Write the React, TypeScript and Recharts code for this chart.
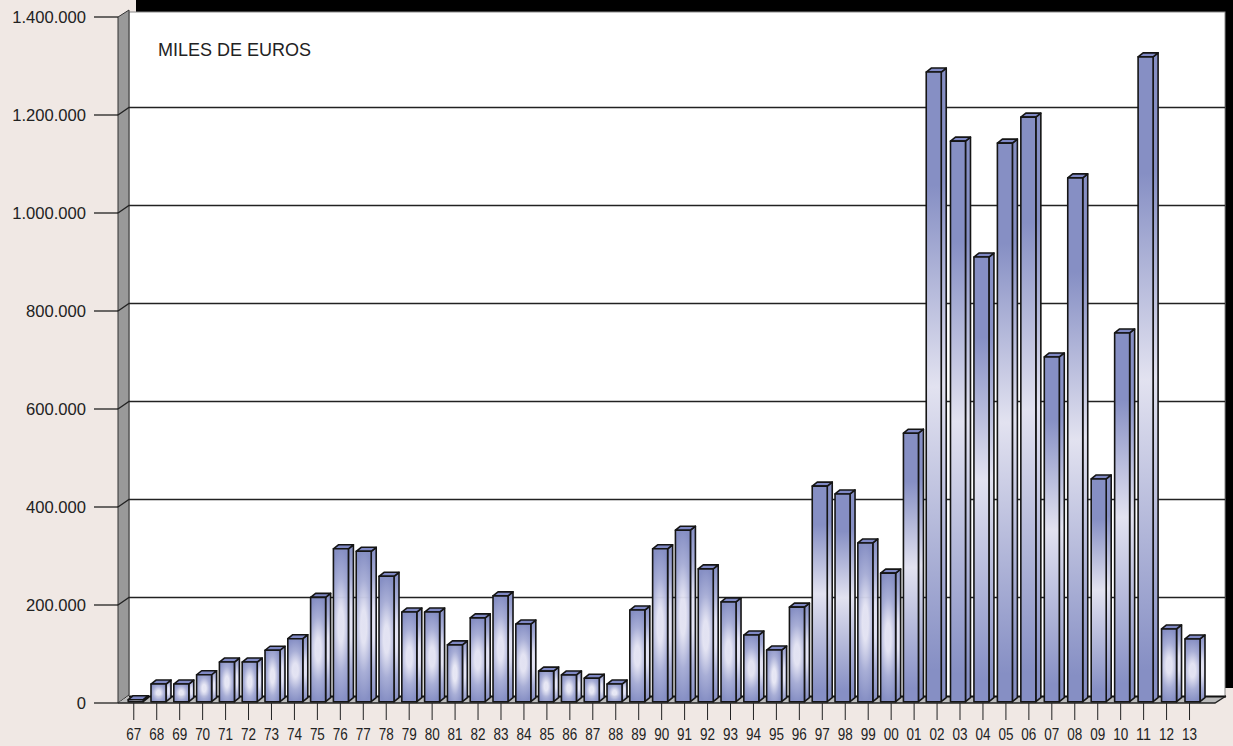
import { BarChart, Bar, CartesianGrid, XAxis, YAxis } from 'recharts'

const years = [
  '67', '68', '69', '70', '71', '72', '73', '74', '75', '76', '77', '78', '79', '80', '81', '82',
  '83', '84', '85', '86', '87', '88', '89', '90', '91', '92', '93', '94', '95', '96', '97', '98',
  '99', '00', '01', '02', '03', '04', '05', '06', '07', '08', '09', '10', '11', '12', '13',
]

const amounts = [
  4000, 36000, 36000, 55000, 81000, 81000, 105000, 128500, 213000, 312000, 307000, 256000, 183000,
  183000, 116000, 171000, 216000, 158500, 62500, 54500, 48000, 36000, 187000, 312000, 350000,
  271000, 203500, 136000, 105500, 193000, 440000, 424000, 324000, 262500, 548000, 1285000, 1144000,
  907500, 1140000, 1193000, 703500, 1069000, 454500, 752500, 1316000, 148500, 128000,
]

const yTicks = [0, 200000, 400000, 600000, 800000, 1000000, 1200000, 1400000]

const data = years.map((year, i) => ({ year, amount: amounts[i] }))

const formatThousands = (v: number) => String(v).replace(/\B(?=(\d{3})+$)/g, '.')

function gradientFor(height: number) {
  if (height < 60) return 'url(#barSmall)'
  if (height < 200) return 'url(#barMedium)'
  return 'url(#barTall)'
}

// the source picture packs the bars a little tighter up to 2002 and looser after it
function spacingShift(i: number) {
  return i <= 35 ? 0.25 - 0.15 * (i - 1) : -4.05 + 0.5 * (i - 35)
}

function Box3D(props: any) {
  const { y, width, height, index } = props
  if (height == null) return null
  const x = props.x + spacingShift(index)
  const top = y - 1.3
  const h = Math.max(height, 0)
  const dx = 5
  const dy = 4
  const fill = gradientFor(h)
  return (
    <g stroke="#151515" strokeWidth={1.6} strokeLinejoin="round">
      <path
        d={`M${x + width} ${top}L${x + width + dx} ${top - dy}V${top + h - dy}L${x + width} ${top + h}Z`}
        fill={fill}
      />
      <path d={`M${x} ${top}L${x + dx} ${top - dy}H${x + width + dx}L${x + width} ${top}Z`} fill="#7f88c4" />
      <rect x={x} y={top} width={width} height={h} fill={fill} />
    </g>
  )
}

function GridLine(props: any) {
  const { y1 } = props
  if (y1 > 700 || y1 < 20) return null
  return <path d={`M118 ${y1}L129 ${y1 - 7.5}H1225`} fill="none" stroke="#222" strokeWidth={1.3} />
}

function ValueTick(props: any) {
  const { y, payload } = props
  return (
    <g>
      <line x1={94} x2={118} y1={y} y2={y} stroke="#111" strokeWidth={1.2} />
      <text x={86} y={y + 6} textAnchor="end" fontSize={16.6} fill="#222" fontFamily="Liberation Sans">
        {formatThousands(payload.value)}
      </text>
    </g>
  )
}

function YearTick(props: any) {
  const { x, payload } = props
  const px = x - 1.5
  return (
    <g>
      <line x1={px} x2={px} y1={703} y2={720} stroke="#222" strokeWidth={1} />
      <text
        x={px}
        y={740}
        textAnchor="middle"
        fontSize={16.5}
        fill="#222"
        fontFamily="Liberation Sans"
        textLength={15}
        lengthAdjust="spacingAndGlyphs"
      >
        {payload.value}
      </text>
    </g>
  )
}

function Stops({ light }: { light: string }) {
  return (
    <>
      <stop offset="0" stopColor={light} />
      <stop offset="0.22" stopColor={light} stopOpacity={0.95} />
      <stop offset="0.62" stopColor="#a8aed6" />
      <stop offset="1" stopColor="#868fc4" />
    </>
  )
}

export default function App() {
  return (
    <div style={{ position: 'absolute', left: 0, top: 0, width: 1233, height: 746, background: '#f0e8e4', overflow: 'hidden' }}>
      <svg width={1233} height={746} style={{ position: 'absolute', left: 0, top: 0 }}>
        <rect x={136} y={0} width={1097} height={12} fill="#000" />
        <rect x={1225} y={0} width={8} height={688} fill="#000" />
        <rect x={129} y={12} width={1096} height={685} fill="#fff" stroke="#888" strokeWidth={1} />
        <path d="M118 17L129 10V695L118 703Z" fill="#999" stroke="#333" strokeWidth={1} />
        <path d="M118 703L129 696H1226L1215 703Z" fill="#bbb" />
        <path d="M129 696.5H1226" stroke="#111" strokeWidth={2} />
        <path d="M118 703H1215L1226 696" fill="none" stroke="#222" strokeWidth={1.4} />
        <text x={158} y={56} fontSize={18} fill="#222" fontFamily="Liberation Sans">
          MILES DE EUROS
        </text>
      </svg>
      <div style={{ position: 'absolute', left: 0, top: 0 }}>
        <BarChart
          width={1233}
          height={746}
          data={data}
          margin={{ top: 17, right: 30.5, bottom: 0, left: 0 }}
          barCategoryGap={0}
        >
          <defs>
            <radialGradient id="barSmall" cx="0.5" cy="0.5" r="0.62">
              <Stops light="#e6e6f4" />
            </radialGradient>
            <radialGradient
              id="barMedium"
              cx="0.5"
              cy="0.5"
              r="0.5"
              gradientTransform="translate(0.5 0.5) scale(1.8 1) translate(-0.5 -0.5)"
            >
              <Stops light="#e2e2f2" />
            </radialGradient>
            <linearGradient id="barTall" x1="0" y1="0" x2="0" y2="1">
              <stop offset="0" stopColor="#868fc4" />
              <stop offset="0.18" stopColor="#868fc4" />
              <stop offset="0.5" stopColor="#e2e2f0" />
              <stop offset="0.95" stopColor="#868fc4" />
              <stop offset="1" stopColor="#868fc4" />
            </linearGradient>
          </defs>
          <CartesianGrid vertical={false} horizontal={GridLine as any} />
          <XAxis dataKey="year" height={43} axisLine={false} tickLine={false} tick={YearTick} interval={0} />
          <YAxis
            width={123.8}
            domain={[0, 1400000]}
            ticks={yTicks}
            axisLine={false}
            tickLine={false}
            tick={ValueTick}
            interval={0}
          />
          <Bar dataKey="amount" barSize={15} shape={Box3D} isAnimationActive={false} />
        </BarChart>
      </div>
    </div>
  )
}
